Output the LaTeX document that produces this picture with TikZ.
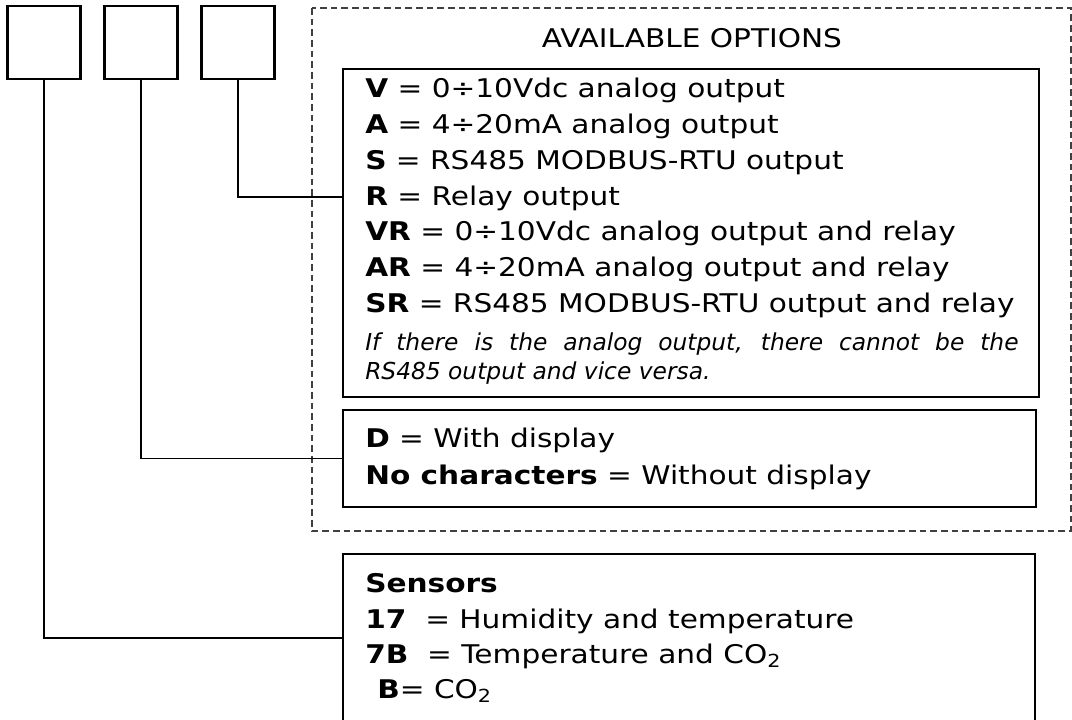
\documentclass[tikz,border=0pt]{standalone}
\usepackage{fontspec}
\setmainfont{DejaVu Sans}[FakeStretch=1.15]
\newfontfamily\notefont{DejaVu Sans}
\begin{document}
\begin{tikzpicture}[x=0.75pt,y=-0.75pt,
    codebox/.style={draw, line width=1.7pt, minimum size=54.75pt, inner sep=0pt},
    legend/.style={draw, line width=1.5pt, anchor=north west, inner sep=0pt},
    link/.style={line width=1.3pt},
    row/.style={anchor=base west, inner sep=0pt, font=\fontsize{19.3}{22}\selectfont}]
    \useasboundingbox (0,0) rectangle (1072,720);
    \clip (0,0) rectangle (1072,720);

    % Code positions
    \node[codebox] (c1) at (44,42.5) {};
    \node[codebox] (c2) at (141,42.5) {};
    \node[codebox] (c3) at (238,42.5) {};

    % Available options frame
    \draw[black!75, line width=1pt, dash pattern=on 5pt off 3pt] (312,8) rectangle (1071,531);
    \node[row, anchor=base] (title) at (692,48) {AVAILABLE OPTIONS};

    % Legend boxes
    \node[legend, minimum width=522pt, minimum height=246pt] (opts) at (342,68) {};
    \node[legend, minimum width=519.75pt, minimum height=72.75pt] (disp) at (342,409) {};
    \node[legend, minimum width=519pt, minimum height=126pt] (sens) at (342,553) {};

    % Output options
    \foreach \k/\t [count=\i] in {V/{0÷10Vdc analog output}, A/{4÷20mA analog output},
        S/{RS485 MODBUS-RTU output}, R/{Relay output},
        VR/{0÷10Vdc analog output and relay}, AR/{4÷20mA analog output and relay},
        SR/{RS485 MODBUS-RTU output and relay}} {
        \node[row] (o\i) at (365,{62.3+35.7*\i}) {\textbf{\k} = \t};
      }
    \node[anchor=north west, inner sep=0pt, text width=490pt, align=justify,
        font=\notefont\fontsize{17.5}{21.75}\itshape\selectfont] (note) at (365,333)
        {If there is the analog output, there cannot be the\linebreak RS485 output and vice versa.};

    % Display options
    \node[row] (d1) at (365,448) {\textbf{D} = With display};
    \node[row] (d2) at (365,484) {\textbf{No characters} = Without display};

    % Sensors
    \node[row] (s0) at (365,592) {\textbf{Sensors}};
    \node[row] (s1) at (365,628) {\textbf{17}\ \ = Humidity and temperature};
    \node[row] (s2) at (365,663) {\textbf{7B}\ \ = Temperature and CO\textsubscript{2}};
    \node[row] (s3) at (377,698) {\textbf{B}= CO\textsubscript{2}};

    % Connectors
    \coordinate (rin) at (342,197);
    \draw[link] (c3.south) |- (rin);
    \draw[link] (c2.south) |- (disp.west);
    \draw[link] (c1.south) |- (sens.west);
  \end{tikzpicture}
\end{document}
